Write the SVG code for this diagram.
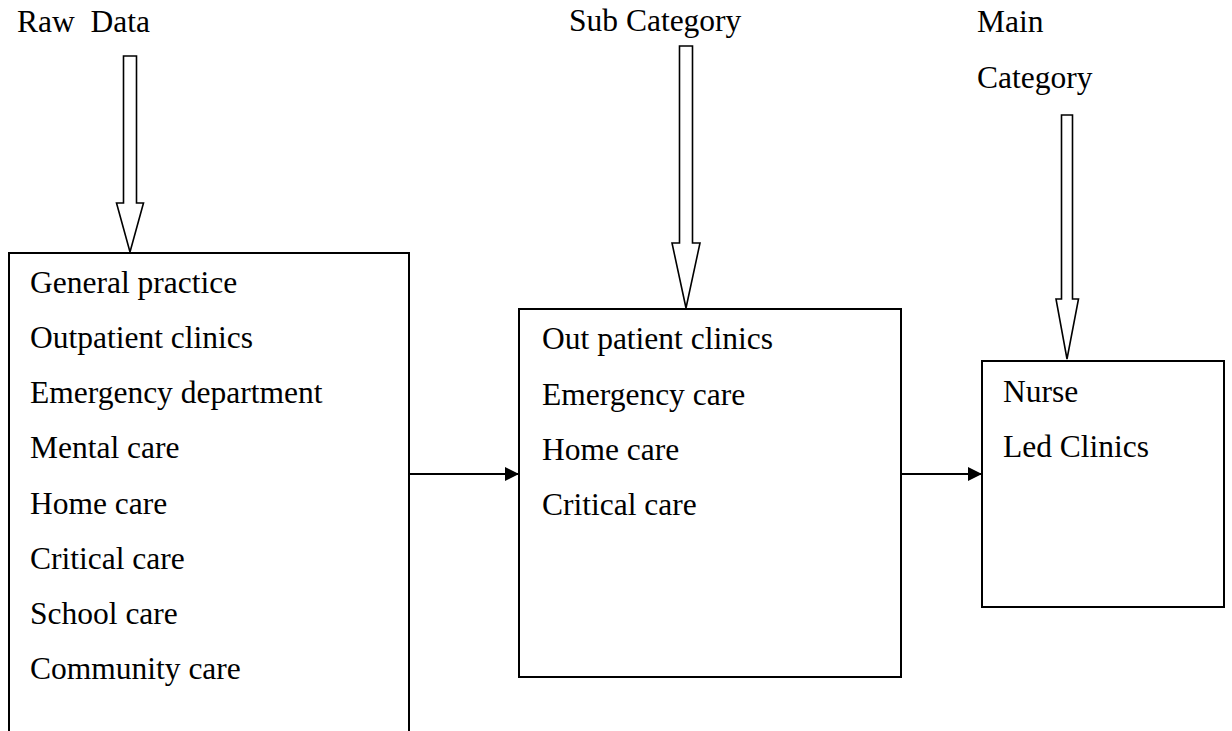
<svg xmlns="http://www.w3.org/2000/svg" width="1232" height="731" viewBox="0 0 1232 731">
<style>
text{font-family:"Liberation Serif","Times New Roman",serif;font-size:31.5px;fill:#000}
.box{fill:#fff;stroke:#000;stroke-width:2}
.big{fill:#fff;stroke:#000;stroke-width:1.6;stroke-linejoin:miter}
.con{stroke:#000;stroke-width:2;fill:none}
</style>
<defs>
<marker id="ah" viewBox="0 0 10 10" refX="10" refY="5" markerWidth="14" markerHeight="14" markerUnits="userSpaceOnUse" orient="auto">
<path d="M0,0 L10,5 L0,10 Z" fill="#000"/>
</marker>
</defs>
<rect width="1232" height="731" fill="#fff"/>
<g id="labels">
<text x="17" y="32" xml:space="preserve">Raw  Data</text>
<text x="569" y="31">Sub Category</text>
<text x="977" y="32">Main</text>
<text x="977" y="88">Category</text>
</g>
<g id="input-arrows">
<path class="big" d="M123.5,56 H136.5 V203 H143.5 L130,252 L116.5,203 H123.5 Z"/>
<path class="big" d="M679.5,46 H692.5 V243 H700 L686,308 L672,243 H679.5 Z"/>
<path class="big" d="M1061.5,115 H1072.5 V299 H1078.5 L1067,359 L1056,299 H1061.5 Z"/>
</g>
<g id="raw-data">
<path class="box" d="M9,740 V253 H409 V740"/>
<text x="30" y="293">General practice</text>
<text x="30" y="348">Outpatient clinics</text>
<text x="30" y="403">Emergency department</text>
<text x="30" y="458">Mental care</text>
<text x="30" y="514">Home care</text>
<text x="30" y="569">Critical care</text>
<text x="30" y="624">School care</text>
<text x="30" y="679">Community care</text>
</g>
<g id="sub-category">
<rect class="box" x="519" y="309" width="382" height="368"/>
<text x="542" y="349">Out patient clinics</text>
<text x="542" y="405">Emergency care</text>
<text x="542" y="460">Home care</text>
<text x="542" y="515">Critical care</text>
</g>
<g id="main-category">
<rect class="box" x="982" y="361" width="242" height="246"/>
<text x="1003" y="402">Nurse</text>
<text x="1003" y="457">Led Clinics</text>
</g>
<g id="connectors">
<line class="con" x1="409" y1="474" x2="519" y2="474" marker-end="url(#ah)"/>
<line class="con" x1="901" y1="474" x2="982" y2="474" marker-end="url(#ah)"/>
</g>
</svg>
